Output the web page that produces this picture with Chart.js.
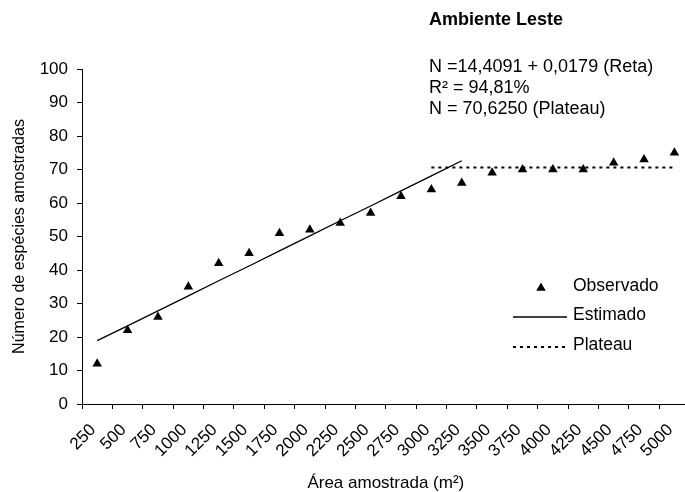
<!DOCTYPE html>
<html>
<head>
<meta charset="utf-8">
<script src="https://cdn.jsdelivr.net/npm/chart.js@4/dist/chart.umd.min.js"></script>
<style>
  html, body { margin: 0; padding: 0; background: #fff; overflow: hidden; }
  #wrap { position: relative; width: 700px; height: 492px; }
  canvas { display: block; }
</style>
</head>
<body>
<div id="wrap"><canvas id="c" width="700" height="492"></canvas></div>
<script>
// Sampled area (m²) on the x axis
const areas = ['250', '500', '750', '1000', '1250', '1500', '1750', '2000', '2250', '2500',
               '2750', '3000', '3250', '3500', '3750', '4000', '4250', '4500', '4750', '5000'];

// Observed number of species
const observado = [12, 22, 26, 35, 42, 45, 51, 52, 54, 57,
                   62, 64, 66, 69, 70, 70, 70, 72, 73, 75];

// Fitted straight segment (linear part of the model)
const estimado = [18.9, 23.3, 27.8, 32.3, 36.8, 41.2, 45.7, 50.2, 54.7, 59.1,
                  63.6, 68.1, 72.6, null, null, null, null, null, null, null];

// Plateau level
const plateau = [null, null, null, null, null, null, null, null, null, null,
                 null, 70.625, 70.625, 70.625, 70.625, 70.625, 70.625, 70.625, 70.625, 70.625];

const yTicks = [0, 10, 20, 30, 40, 50, 60, 70, 80, 90, 100];

const heading = 'Ambiente Leste';
const equationLines = ['N =14,4091 + 0,0179 (Reta)', 'R² = 94,81%', 'N = 70,6250 (Plateau)'];
const seriesNames = ['Observado', 'Estimado', 'Plateau'];

const FONT = '"Liberation Sans", Arial, sans-serif';

// Heading, model equations and the in-plot legend
const notesPlugin = {
  id: 'notes',
  afterDraw(chart) {
    const ctx = chart.ctx;
    ctx.save();
    ctx.fillStyle = '#000';
    ctx.textAlign = 'left';
    ctx.textBaseline = 'middle';
    ctx.font = 'bold 18px ' + FONT;
    ctx.fillText(heading, 429, 20);
    ctx.font = '18px ' + FONT;
    equationLines.forEach((t, i) => ctx.fillText(t, 429, 67 + i * 21));

    // legend
    ctx.font = '17.5px ' + FONT;
    const symL = 513, symR = 567, textX = 573;
    const rows = [286, 315, 345];
    chart.data.datasets.forEach((ds, i) => {
      const y = rows[i];
      ctx.fillStyle = '#000';
      ctx.strokeStyle = '#000';
      if (i === 0) {
        const cx = 541, cy = y + 2, r = 5.5;
        ctx.beginPath();
        ctx.moveTo(cx, cy - r);
        ctx.lineTo(cx + r * 0.866, cy + r / 2);
        ctx.lineTo(cx - r * 0.866, cy + r / 2);
        ctx.closePath();
        ctx.fill();
      } else {
        ctx.lineWidth = ds.borderWidth;
        ctx.setLineDash(ds.borderDash || []);
        ctx.beginPath();
        ctx.moveTo(symL, y + 2);
        ctx.lineTo(symR, y + 2);
        ctx.stroke();
        ctx.setLineDash([]);
      }
      ctx.fillText(ds.label, textX, y);
    });
    ctx.restore();
  }
};

new Chart(document.getElementById('c'), {
  type: 'line',
  data: {
    labels: areas,
    datasets: [
      {
        label: seriesNames[0],
        data: observado,
        showLine: false,
        pointStyle: 'triangle',
        pointRadius: 5.5,
        pointBorderWidth: 0,
        pointBackgroundColor: '#000',
        pointBorderColor: '#000',
        backgroundColor: '#000',
        borderColor: '#000'
      },
      {
        label: seriesNames[1],
        data: estimado,
        borderColor: '#000',
        borderWidth: 1.3,
        pointRadius: 0,
        tension: 0,
        spanGaps: false
      },
      {
        label: seriesNames[2],
        data: plateau,
        borderColor: '#000',
        borderWidth: 2,
        borderDash: [3, 4],
        pointRadius: 0,
        tension: 0,
        spanGaps: false
      }
    ]
  },
  options: {
    responsive: false,
    animation: false,
    devicePixelRatio: 1,
    layout: { padding: { top: 69, right: 6, left: 0, bottom: 0 } },
    plugins: {
      legend: { display: false },
      tooltip: { enabled: false }
    },
    scales: {
      x: {
        type: 'category',
        offset: true,
        grid: { offset: true, drawOnChartArea: false, drawTicks: true, tickLength: 5, color: '#000' },
        border: { color: '#000', width: 1 },
        ticks: {
          autoSkip: false,
          minRotation: 45,
          maxRotation: 45,
          color: '#000',
          padding: 11,
          labelOffset: -4,
          font: { family: FONT, size: 17 }
        },
        title: {
          display: true,
          text: 'Área amostrada (m²)',
          color: '#000',
          font: { family: FONT, size: 17, lineHeight: 1 },
          padding: { top: 0, bottom: 0 }
        },
        afterFit(scale) { scale.height = 88; }
      },
      y: {
        min: 0,
        max: 100,
        afterBuildTicks(scale) { scale.ticks = yTicks.map(v => ({ value: v })); },
        grid: { drawOnChartArea: false, drawTicks: true, tickLength: 5, color: '#000' },
        border: { color: '#000', width: 1 },
        ticks: {
          color: '#000',
          padding: 9,
          font: { family: FONT, size: 17 }
        },
        title: {
          display: true,
          text: 'Número de espécies amostradas',
          color: '#000',
          font: { family: FONT, size: 16 },
          padding: { top: 10, bottom: 0 }
        },
        afterFit(scale) { scale.width = 82; }
      }
    }
  },
  plugins: [notesPlugin]
});
</script>
</body>
</html>
